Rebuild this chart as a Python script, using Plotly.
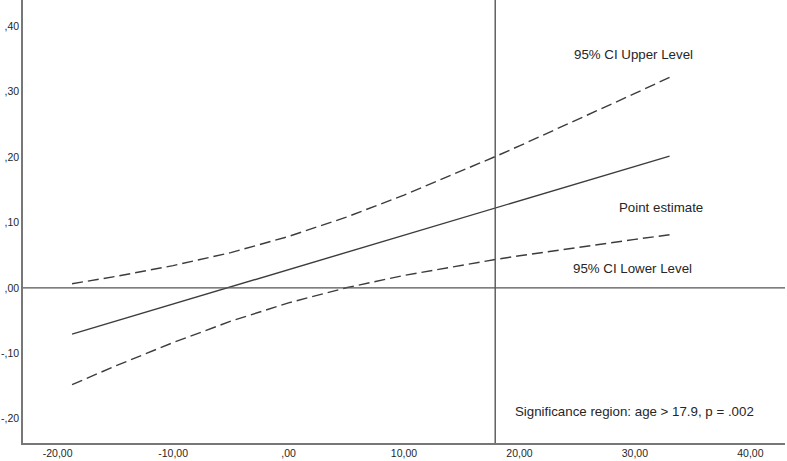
import plotly.graph_objects as go

# Moderator values (age, centred) and conditional effect with 95% CI
age = [-18.75, -15, -10, -5, 0, 5, 10, 15, 17.9, 20, 25, 30, 33]
point_estimate = [-0.0707, -0.0510, -0.0247, 0.0016, 0.0279, 0.0542, 0.0805, 0.1068, 0.1221, 0.1331, 0.1594, 0.1857, 0.2015]
ci_upper = [0.0064, 0.0174, 0.0341, 0.0540, 0.0786, 0.1081, 0.1419, 0.1786, 0.2007, 0.2171, 0.2568, 0.2972, 0.3218]
ci_lower = [-0.1478, -0.1194, -0.0835, -0.0508, -0.0228, 0.0003, 0.0191, 0.0350, 0.0435, 0.0491, 0.0620, 0.0742, 0.0812]

jn_point = 17.9

x_ticks = [-20, -10, 0, 10, 20, 30, 40]
x_tick_text = ["-20,00", "-10,00", ",00", "10,00", "20,00", "30,00", "40,00"]
y_ticks = [-0.2, -0.1, 0.0, 0.1, 0.2, 0.3, 0.4]
y_tick_text = ["-,20", "-,10", ",00", ",10", ",20", ",30", ",40"]

labels = ["95% CI Upper Level", "Point estimate", "95% CI Lower Level",
          "Significance region: age > 17.9, p = .002"]
label_x = [29.9, 32.3, 29.8, 30.0]
label_y = [0.357, 0.123, 0.030, -0.1895]

line_col = "#3c3c3c"
text_col = "#262626"
font_family = "Arial, Liberation Sans, sans-serif"

fig = go.Figure()
fig.add_trace(go.Scatter(x=age, y=ci_upper, mode="lines",
                         line=dict(color=line_col, width=1.4, dash="11px,5px"),
                         hoverinfo="skip", showlegend=False))
fig.add_trace(go.Scatter(x=age, y=point_estimate, mode="lines",
                         line=dict(color=line_col, width=1.4),
                         hoverinfo="skip", showlegend=False))
fig.add_trace(go.Scatter(x=age, y=ci_lower, mode="lines",
                         line=dict(color=line_col, width=1.4, dash="11px,5px"),
                         hoverinfo="skip", showlegend=False))

# reference lines: y = 0 and the Johnson-Neyman point
fig.add_hline(y=0, line=dict(color="#555555", width=1.4))
fig.add_vline(x=jn_point, line=dict(color="#555555", width=1.4))

for t, xx, yy in zip(labels, label_x, label_y):
    fig.add_annotation(x=xx, y=yy, text=t, showarrow=False, xanchor="center", yanchor="middle",
                       font=dict(family=font_family, size=13.3, color=text_col))

fig.update_layout(
    template="none",
    width=787, height=461,
    margin=dict(l=23, r=2, t=0, b=18),
    paper_bgcolor="white", plot_bgcolor="white",
    font=dict(family=font_family, size=10.5, color=text_col),
    xaxis=dict(range=[-23, 43.0], tickvals=x_ticks, ticktext=x_tick_text,
               showgrid=False, zeroline=False, showline=True, linecolor="#777777", linewidth=1.5,
               ticks="", tickfont=dict(size=10.5, color=text_col)),
    yaxis=dict(range=[-0.237, 0.44], tickvals=y_ticks, ticktext=y_tick_text,
               showgrid=False, zeroline=False, showline=True, linecolor="#777777", linewidth=1.5,
               ticks="", tickfont=dict(size=10.5, color=text_col)),
)

fig.write_html("out.html", config={"displayModeBar": False},
               post_script="document.body.style.margin='0';document.body.style.overflow='hidden';")
